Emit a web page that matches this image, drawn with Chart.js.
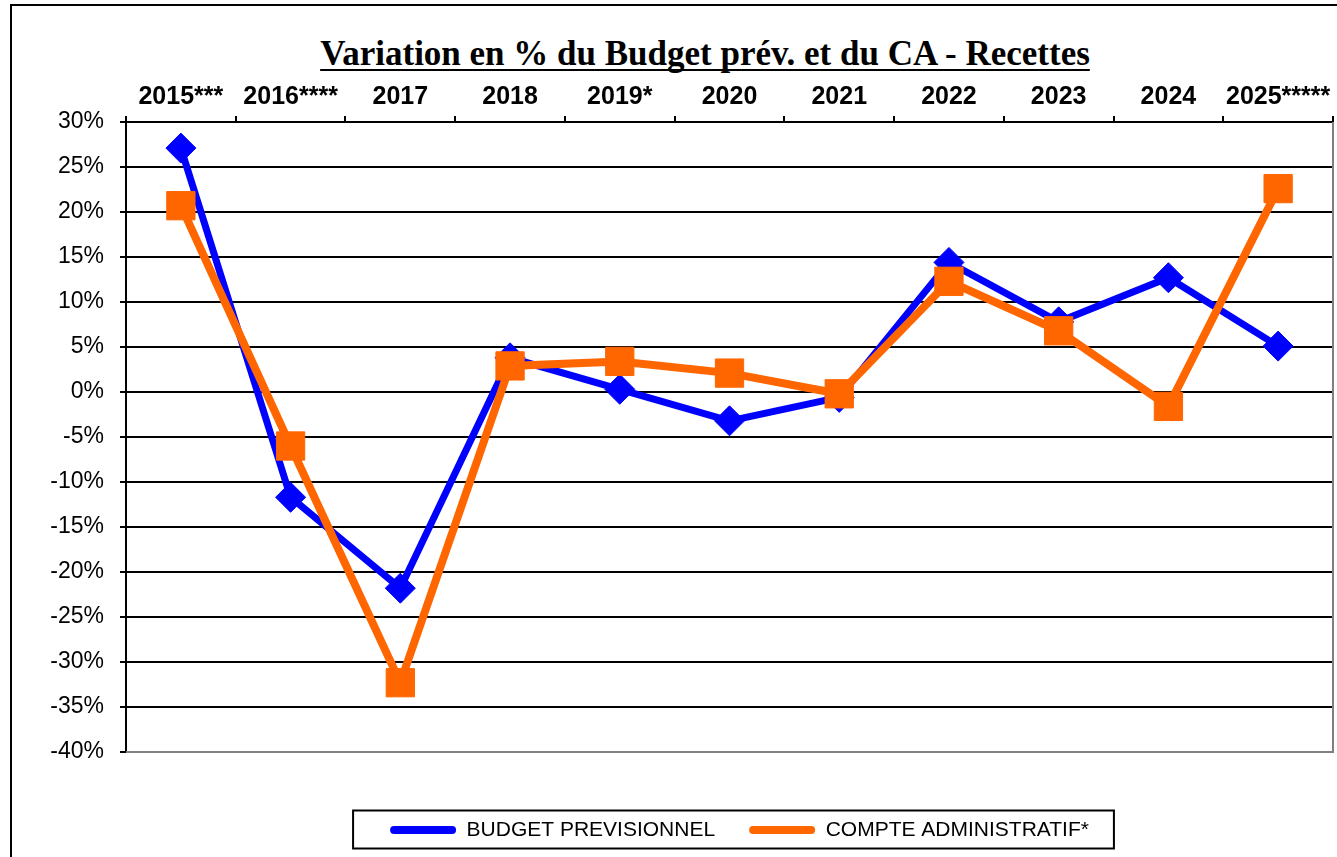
<!DOCTYPE html>
<html lang="fr">
<head>
<meta charset="utf-8">
<title>Variation en % du Budget prév. et du CA - Recettes</title>
<script src="https://cdn.jsdelivr.net/npm/chart.js@4.4.1/dist/chart.umd.min.js"></script>
<style>
  html, body { margin: 0; padding: 0; background: #fff; overflow: hidden; }
  #wrap { position: relative; width: 1337px; height: 857px; }
  #frame {
    position: absolute; left: 10px; top: 4px; width: 1400px; height: 900px;
    border: 2px solid #000; box-sizing: border-box;
  }
  #title {
    position: absolute; left: 0; top: 36px; width: 1410px; text-align: center;
    font: bold 35px "Liberation Serif", "Times New Roman", serif; line-height: 35px;
    color: #000; text-decoration: underline; text-decoration-thickness: 2px;
    text-underline-offset: 4px; text-decoration-skip-ink: none; white-space: nowrap;
  }
  #chartBox { position: absolute; left: 0; top: 0; width: 1337px; height: 857px; }
</style>
</head>
<body>
<div id="wrap">
  <div id="frame"></div>
  <div id="title">Variation en % du Budget prév. et du CA - Recettes</div>
  <div id="chartBox"><canvas id="chart"></canvas></div>
</div>
<script>
// ==================== Data ====================
const years = ['2015***', '2016****', '2017', '2018', '2019*', '2020', '2021', '2022', '2023', '2024', '2025*****'];
const budgetPrev = [27.1, -11.7, -21.8, 3.8, 0.3, -3.2, -0.6, 14.4, 7.8, 12.7, 5.1];
const compteAdmin = [20.7, -6.0, -32.3, 2.9, 3.4, 2.1, -0.2, 12.3, 6.8, -1.6, 22.6];
const seriesNames = ['BUDGET PREVISIONNEL', 'COMPTE ADMINISTRATIF*'];
const yMin = -40, yMax = 30, yStep = 5;

const BLUE = '#0000ff';
const ORANGE = '#ff6600';

// ==================== Plugins ====================
// gray plot border on the right / bottom (like the excel plot area)
const plotBorder = {
  id: 'plotBorder',
  beforeDatasetsDraw(chart) {
    const a = chart.chartArea, c = chart.ctx;
    c.save();
    c.strokeStyle = '#808080';
    c.lineWidth = 2;
    c.beginPath();
    c.moveTo(a.left, a.bottom);
    c.lineTo(a.right, a.bottom);
    c.lineTo(a.right, a.top);
    c.stroke();
    c.restore();
  }
};

// box around the legend (and nudge it a bit to the right)
const legendFrame = {
  id: 'legendFrame',
  afterLayout(chart) {
    const lg = chart.legend;
    if (lg) { lg.left += 10; lg.right += 10; }
  },
  afterDraw(chart) {
    const hb = chart.legend && chart.legend.legendHitBoxes;
    if (!hb || !hb.length) return;
    const f = hb[0], l = hb[hb.length - 1];
    const x0 = f.left - 37, x1 = l.left + l.width + 25;
    const y0 = f.top - 9, y1 = f.top + f.height + 8;
    const c = chart.ctx;
    c.save();
    c.strokeStyle = '#000';
    c.lineWidth = 2;
    c.strokeRect(x0, y0, x1 - x0, y1 - y0);
    c.restore();
  }
};

// ==================== Chart ====================
const ctx = document.getElementById('chart').getContext('2d');
new Chart(ctx, {
  type: 'line',
  data: {
    labels: years,
    datasets: [
      {
        label: seriesNames[0], data: budgetPrev,
        borderColor: BLUE, backgroundColor: BLUE, borderWidth: 7,
        pointStyle: 'rectRot', pointRadius: 15,
        pointBackgroundColor: BLUE, pointBorderColor: BLUE, pointBorderWidth: 1,
        tension: 0, order: 2
      },
      {
        label: seriesNames[1], data: compteAdmin,
        borderColor: ORANGE, backgroundColor: ORANGE, borderWidth: 8,
        pointStyle: 'rect', pointRadius: 20,
        pointBackgroundColor: ORANGE, pointBorderColor: ORANGE, pointBorderWidth: 1,
        tension: 0, order: 1
      }
    ]
  },
  options: {
    responsive: true,
    maintainAspectRatio: false,
    animation: false,
    layout: { autoPadding: false, padding: { top: 70, right: 4, bottom: 6.5, left: 0 } },
    scales: {
      x: {
        position: 'top',
        offset: true,
        afterFit: s => { s.height = 52; },
        grid: {
          offset: true, drawOnChartArea: false, drawTicks: true,
          tickLength: 6, color: '#000', lineWidth: 2
        },
        border: { display: true, color: '#000', width: 2 },
        ticks: {
          color: '#000', padding: 4, maxRotation: 0, autoSkip: false,
          font: { family: '"Liberation Sans", Arial, sans-serif', size: 25, weight: 'bold' }
        }
      },
      y: {
        min: yMin, max: yMax,
        afterFit: s => { s.width = 126; },
        grid: {
          color: c => (c.tick && c.tick.value === yMin) ? '#808080' : '#000',
          tickColor: '#000', lineWidth: 2, tickLength: 6
        },
        border: { display: true, color: '#000', width: 2 },
        ticks: {
          stepSize: yStep, color: '#000', padding: 16,
          font: { family: '"Liberation Sans", Arial, sans-serif', size: 23 },
          callback: v => v + '%'
        }
      }
    },
    plugins: {
      title: { display: false },
      tooltip: { enabled: false },
      legend: {
        position: 'bottom',
        fullSize: false,
        title: { display: true, text: '', padding: 0, font: { size: 33.5, lineHeight: 1 } },
        labels: {
          color: '#000', boxWidth: 66, boxHeight: 8, padding: 34,
          font: { family: '"Liberation Sans", Arial, sans-serif', size: 21 },
          sort: (a, b) => a.datasetIndex - b.datasetIndex,
          generateLabels: chart => {
            const items = Chart.defaults.plugins.legend.labels.generateLabels(chart);
            items.forEach(it => { it.lineWidth = 0; it.borderRadius = 4; });
            return items;
          }
        }
      }
    }
  },
  plugins: [plotBorder, legendFrame]
});
</script>
</body>
</html>
